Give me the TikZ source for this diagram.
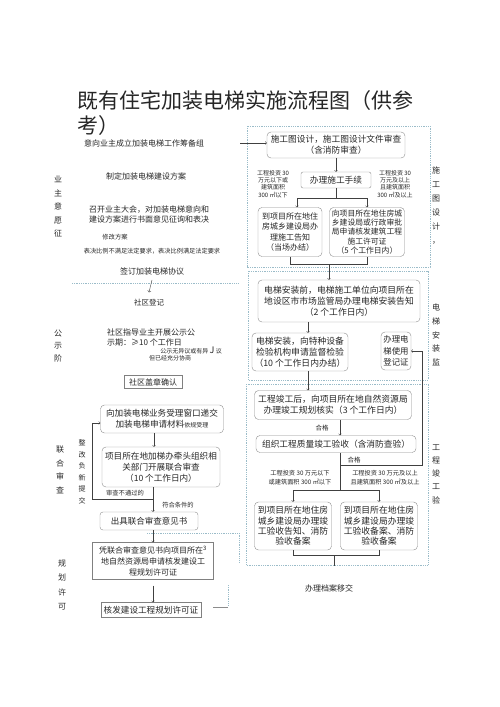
\documentclass[tikz,border=0pt]{standalone}
\usepackage{fontspec}
\setmainfont{Noto Sans CJK SC}
\newcommand\fs[2]{\fontsize{#1}{#2}\selectfont}
\begin{document}
\begin{tikzpicture}[x=1pt,y=-1pt,
  every node/.style={inner sep=1pt, text=black!85, font=\fs{8}{10}},
  box/.style={draw=black!45, rounded corners=4pt, align=center, font=\fs{8.7}{10.8}},
  sbox/.style={draw=black!50, align=center, font=\fs{8}{11}},
  note/.style={align=center, font=\fs{6}{7.2}},
  side/.style={align=center, font=\fs{8}{13.5}},
  grp/.style={draw=cyan!35!gray!70, densely dotted, thick},
  arr/.style={->, draw=black!75},
  ln/.style={draw=black!75}
]
\useasboundingbox (0,0) rectangle (500,707);
% title
\node[anchor=north west, inner sep=0, align=left, font=\fs{21}{25}] (title) at (77,90)
  {既有住宅加装电梯实施流程图（供参\\考）};

% left column: owners
\node (n1) at (144,143) {意向业主成立加装电梯工作筹备组};
\node (n2) at (146,176) {制定加装电梯建设方案};
\node[align=center] (n3) at (149,214) {召开业主大会，对加装电梯意向和\\建设方案进行书面意见征询和表决};
\node[font=\fs{6.3}{7}] (n4) at (115,237) {修改方案};
\node[font=\fs{6.2}{7}] (n5) at (152,251) {表决比例不满足法定要求，表决比例满足法定要求};
\node (n6) at (152,271) {签订加装电梯协议};
\draw[grp] (72,283) -- (238,283);
\node[font=\fs{7.5}{9}] (n7) at (149,303) {社区登记};
\node[anchor=west, align=left] (n8) at (106,337) {社区指导业主开展公示公\\示期：≥10 个工作日};
\node[font=\fs{6}{7}] (n9) at (191,350) {公示无异议或有异 {\fs{9}{9}J} 议};
\node[font=\fs{6}{7}] (n9b) at (170,358) {但已经充分协商};
\node[sbox, minimum width=58, minimum height=13, font=\fs{8}{10}] (n10) at (153,382) {社区盖章确认};

% left column: joint review
\node[box, minimum width=123, minimum height=28, font=\fs{8.6}{11}] (n11) at (162,419)
  {向加装电梯业务受理窗口递交\\加装电梯申请材料{\fs{6}{6}依规受理}};
\node[box, minimum width=118, minimum height=40, font=\fs{8.6}{11}] (n12) at (161,467)
  {项目所在地加梯办牵头组织相\\关部门开展联合审查\\（10 个工作日内）};
\node[box, rounded corners=3pt, minimum width=98, minimum height=18, font=\fs{8.5}{10}] (n13) at (149,521)
  {出具联合审查意见书};
\node[sbox, minimum width=121, minimum height=37] (n14) at (153,561)
  {凭联合审查意见书向项目所在\textsuperscript{3}\\地自然资源局申请核发建设工\\程规划许可证};
\node[sbox, minimum width=100, minimum height=15, font=\fs{8.6}{10}] (n15) at (151,610)
  {核发建设工程规划许可证};
\node[font=\fs{6.3}{7}] (t1) at (125,493) {审查不通过的};
\node[font=\fs{6.3}{7}] (t2) at (178,505) {符合条件的};

\draw[arr] ([yshift=-4pt]n6.south) -- ([yshift=6pt]n7.north);
\draw[arr] ([xshift=-7pt]n12.north |- n11.south) -- ([xshift=-7pt]n12.north);
\draw[arr] ([xshift=4pt]n13.north |- n12.south) -- ([xshift=4pt]n13.north);
\coordinate (j3) at (153,499);
\draw[arr] (j3) -- (92,499) |- ([yshift=-4pt]n11.west);
\draw[arr] ([xshift=4pt]n13.south) -- ([xshift=4pt]n13.south |- n14.north);
\draw[arr] ([yshift=-6pt]n14.south) -- ([xshift=2pt]n15.north);
\draw[grp] (147,533) -- (239,533) -- (239,563);
\draw[grp] (228,585) -- (228,606);
\draw[draw=black!45] (213,607) -- (228,607);

% side labels
\node[side] (s1) at (58,207) {业\\主\\意\\愿\\征};
\node[side, font=\fs{8}{12.5}] (s2) at (58,346) {公\\示\\阶};
\node[side, font=\fs{8}{13.7}] (s3) at (60,470) {联\\合\\审\\查};
\node[side, font=\fs{8}{14.3}] (s4) at (62,585) {规\\划\\许\\可};
\node[side, font=\fs{7}{11.5}] (s5) at (82,472) {整\\改\\负\\新\\提\\交};
\node[side, font=\fs{8}{14}] (s6) at (436,206) {施\\工\\图\\设\\计\\，};
\node[side, font=\fs{8}{13.7}] (s7) at (436,335) {电\\梯\\安\\装\\监};
\node[side, font=\fs{8}{13.3}] (s8) at (436,474) {工\\程\\竣\\工\\验};

% right column groups
\draw[grp] (247,126) rectangle (430,267);
\draw[grp] (248,271) rectangle (428,380);
\draw[grp] (246,384) rectangle (428,565);

% construction drawings
\node[box, minimum width=138, minimum height=26] (r1) at (336,145)
  {施工图设计，施工图设计文件审查\\（含消防审查）};
\node[box, rounded corners=2pt, minimum width=70, minimum height=16] (r2) at (336,180) {办理施工手续};
\node[note] (r2l) at (273,184) {工程投资 30\\万元以下或\\建筑面积\\300 ㎡以下};
\node[note] (r2r) at (395,184) {工程投资 30\\万元及以上\\且建筑面积\\300 ㎡及以上};
\node[box, minimum width=64, minimum height=49, font=\fs{8}{10.3}] (r3) at (290,232)
  {到项目所在地住\\房城乡建设局办\\理施工告知\\（当场办结）};
\node[box, minimum width=75, minimum height=49, font=\fs{7.8}{9.2}] (r4) at (367,232)
  {向项目所在地住房城\\乡建设局或行政审批\\局申请核发建筑工程\\施工许可证\\（5 个工作日内）};
\coordinate (a0) at (240,143);
\draw[arr] (a0) -- (a0 -| r1.west);
\draw[arr] (r1.south) -- (r2.north);
\draw[arr] (r2.south) -- ++(0,10) -| ([xshift=7pt]r3.north);
\draw[arr] (r2.south) -- ++(0,10) -| (r4.north);
\draw[ln] (r3.south) -- ++(0,7) -| (r4.south);

% elevator installation
\node[box, minimum width=162, minimum height=42, font=\fs{8.8}{11}] (r5) at (339,301)
  {电梯安装前，电梯施工单位向项目所在\\地设区市市场监管局办理电梯安装告知\\（2 个工作日内）};
\node[box, minimum width=96, minimum height=38, font=\fs{8.8}{11}] (r6) at (300,352)
  {电梯安装，向特种设备\\检验机构申请监督检验\\（10 个工作日内办结）};
\node[box, minimum width=30, minimum height=38, font=\fs{8.4}{11.7}] (r7) at (396,351)
  {办理电\\梯使用\\登记证};
\coordinate (b1) at (329,264);
\draw[arr] (b1) -- (b1 |- r5.north);
\draw[arr] ([xshift=8pt]r6.north |- r5.south) -- ([xshift=8pt]r6.north);

% completion acceptance
\node[box, minimum width=157, minimum height=29, font=\fs{8.8}{11}] (r8) at (333,405)
  {工程竣工后，向项目所在地自然资源局\\办理竣工规划核实（3 个工作日内）};
\node[box, minimum width=160, minimum height=17] (r9) at (336,444)
  {组织工程质量竣工验收（含消防查验）};
\node[font=\fs{6.5}{7}] (h1) at (322,428) {合格};
\node[font=\fs{6.5}{7}] (h2) at (354,460) {合格};
\node[note, font=\fs{6.2}{9}] (r9l) at (300,478) {工程投资 30 万元以下\\或建筑面积 300 ㎡以下};
\node[note, font=\fs{6.2}{9}] (r9r) at (385,478) {工程投资 30 万元及以上\\且建筑面积 300 ㎡及以上};
\node[box, minimum width=77, minimum height=48, font=\fs{8.8}{10.3}] (r10) at (293,526)
  {到项目所在地住房\\城乡建设局办理竣\\工验收告知、消防\\验收备案};
\node[box, minimum width=77, minimum height=48, font=\fs{8.8}{10.3}] (r11) at (379,526)
  {到项目所在地住房\\城乡建设局办理竣\\工验收备案、消防\\验收备案};
\draw[arr] ([xshift=8pt]r6.south) -- ([xshift=8pt]r6.south |- r8.north);
\draw[arr] ([xshift=4pt]r9.north |- r8.south) -- ([xshift=4pt]r9.north);
\coordinate (j1) at (340,465);
\coordinate (j2) at (340,490);
\draw[ln] ([xshift=4pt]r9.south) -- (j2);
\draw[arr] (j2) -| (r10.north);
\draw[arr] (j2) -| (r11.north);
\draw[arr] (j1) -| ([xshift=11pt]r7.east) -- (r7.east);
\draw[ln] (r10.south) -- ++(0,5) -| (r11.south);
\coordinate (b2) at (334,555);
\draw[ln] (b2) -- ++(0,11);
\node (r12) at (329,588) {办理档案移交};
\end{tikzpicture}
\end{document}
